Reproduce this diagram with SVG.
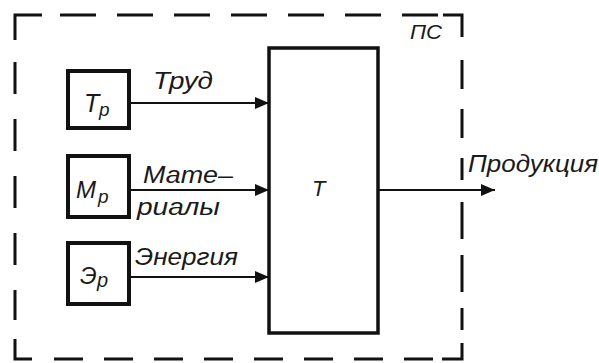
<svg xmlns="http://www.w3.org/2000/svg" width="599" height="363" viewBox="0 0 599 363">
<defs>
<marker id="ah" markerWidth="14" markerHeight="12" refX="14" refY="6" orient="auto" markerUnits="userSpaceOnUse">
<path d="M0,0 L14,6 L0,12 Z" fill="#111"/>
</marker>
<style>
.t{font-family:"Liberation Sans","DejaVu Sans",sans-serif;font-style:italic;fill:#1a1a1a}
.box{fill:none;stroke:#111;stroke-width:4}
.big{fill:none;stroke:#111;stroke-width:3.5}
.bd{fill:none;stroke:#111;stroke-width:3}
.c{stroke:#111;stroke-width:2.2;fill:none}
</style>
</defs>
<rect width="599" height="363" fill="#fff"/>
<g id="boundary">
<path class="bd" d="M15,40 L15,15 L42,15"/>
<path class="bd" d="M60,15 L440,15" stroke-dasharray="36,21"/>
<path class="bd" d="M443,15 L462,15 L462,37"/>
<path class="bd" d="M462,60 L462,180" stroke-dasharray="29,20"/>
<path class="bd" d="M462,202 L462,330" stroke-dasharray="37,16"/>
<path class="bd" d="M462,343 L462,359 L442,359"/>
<path class="bd" d="M433,359 L40,359" stroke-dasharray="29,21"/>
<path class="bd" d="M15,339 L15,359 L32,359"/>
<path class="bd" d="M15,62 L15,320" stroke-dasharray="32,25"/>
<text class="t" x="410" y="39" font-size="21" textLength="32" lengthAdjust="spacingAndGlyphs">ПС</text>
</g>
<g id="Tp">
<rect class="box" x="68" y="71" width="61" height="57"/>
<text class="t" x="84" y="112" font-size="25">Т</text>
<text class="t" x="99" y="116" font-size="19">р</text>
</g>
<g id="Mp">
<rect class="box" x="68" y="156" width="61" height="61"/>
<text class="t" x="76" y="198" font-size="24" textLength="20" lengthAdjust="spacingAndGlyphs">М</text>
<text class="t" x="98" y="203" font-size="19">р</text>
</g>
<g id="Ep">
<rect class="box" x="68" y="243" width="61" height="61"/>
<text class="t" x="80" y="284" font-size="24">Э</text>
<text class="t" x="97" y="287" font-size="20">р</text>
</g>
<g id="T">
<rect class="big" x="269" y="48" width="109" height="285"/>
<text class="t" x="312" y="196" font-size="22">Т</text>
</g>
<g id="connectors">
<line class="c" x1="129" y1="103" x2="269" y2="103" marker-end="url(#ah)"/>
<line class="c" x1="129" y1="190" x2="269" y2="190" marker-end="url(#ah)"/>
<line class="c" x1="129" y1="277" x2="269" y2="277" marker-end="url(#ah)"/>
<line class="c" x1="378" y1="190" x2="495" y2="190" marker-end="url(#ah)"/>
<text class="t" x="153" y="89" font-size="23" textLength="60" lengthAdjust="spacingAndGlyphs">Труд</text>
<text class="t" x="143" y="183" font-size="23" textLength="90" lengthAdjust="spacingAndGlyphs">Мате–</text>
<text class="t" x="137" y="215" font-size="23" textLength="83" lengthAdjust="spacingAndGlyphs">риалы</text>
<text class="t" x="135" y="265" font-size="23" textLength="103" lengthAdjust="spacingAndGlyphs">Энергия</text>
<text class="t" x="468" y="172" font-size="23" textLength="130" lengthAdjust="spacingAndGlyphs">Продукция</text>
</g>
</svg>
